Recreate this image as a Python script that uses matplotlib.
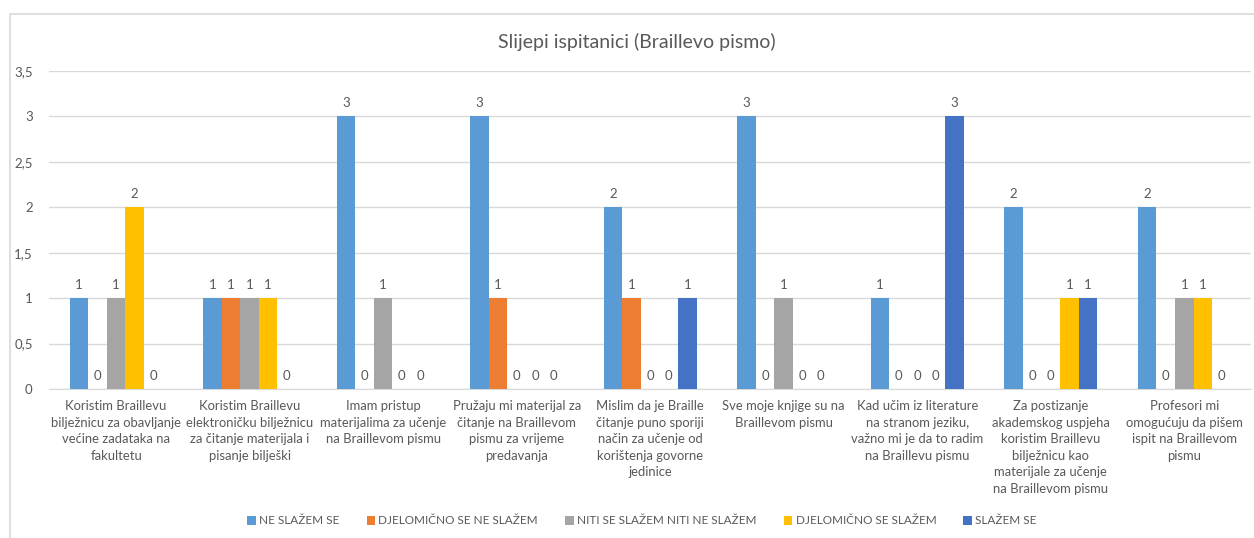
import numpy as np
import matplotlib.pyplot as plt
from matplotlib.patches import Rectangle
from matplotlib.ticker import FuncFormatter

plt.rcParams['font.family'] = ['Lato', 'DejaVu Sans']

# podaci s grafa
kategorije = [
    'Koristim Braillevu\nbilježnicu za obavljanje\nvećine zadataka na\nfakultetu',
    'Koristim Braillevu\nelektroničku bilježnicu\nza čitanje materijala i\npisanje bilješki',
    'Imam pristup\nmaterijalima za učenje\nna Braillevom pismu',
    'Pružaju mi materijal za\nčitanje na Braillevom\npismu za vrijeme\npredavanja',
    'Mislim da je Braille\nčitanje puno sporiji\nnačin za učenje od\nkorištenja govorne\njedinice',
    'Sve moje knjige su na\nBraillevom pismu',
    'Kad učim iz literature\nna stranom jeziku,\nvažno mi je da to radim\nna Braillevu pismu',
    'Za postizanje\nakademskog uspjeha\nkoristim Braillevu\nbilježnicu kao\nmaterijale za učenje\nna Braillevom pismu',
    'Profesori mi\nomogućuju da pišem\nispit na Braillevom\npismu',
]
serije = ['NE SLAŽEM SE', 'DJELOMIČNO SE NE SLAŽEM', 'NITI SE SLAŽEM NITI NE SLAŽEM',
          'DJELOMIČNO SE SLAŽEM', 'SLAŽEM SE']
ne_slazem = [1, 1, 3, 3, 2, 3, 1, 2, 2]
djelomicno_ne = [0, 1, 0, 1, 1, 0, 0, 0, 0]
niti_niti = [1, 1, 1, 0, 0, 1, 0, 0, 1]
djelomicno_da = [2, 1, 0, 0, 0, 0, 0, 1, 1]
slazem = [0, 0, 0, 0, 1, 0, 3, 1, 0]
vrijednosti = [ne_slazem, djelomicno_ne, niti_niti, djelomicno_da, slazem]
boje = ['#5B9BD5', '#ED7D31', '#A5A5A5', '#FFC000', '#4472C4']

siva = '#595959'

fig = plt.figure(figsize=(12.54, 5.38), dpi=100)
# okvir grafikona
fig.patches.append(Rectangle((9.5 / 1254, -0.02), 1.1, 0.02 + (538 - 14) / 538,
                             transform=fig.transFigure, fill=False,
                             edgecolor='#D9D9D9', linewidth=1.2))

ax = fig.add_axes([49.3 / 1254, 149 / 538, (1251 - 49.3) / 1254, 318 / 538])
x = np.arange(len(kategorije))
w = 0.139
for i, (s, v) in enumerate(zip(serije, vrijednosti)):
    bars = ax.bar(x + (i - 2) * w, v, w, color=boje[i], label=s, zorder=3)
    ax.bar_label(bars, padding=5, fontsize=9.5, color=siva)

ax.set_xlim(-0.5, len(kategorije) - 0.5)
ax.set_ylim(0, 3.5)
ax.set_yticks(np.arange(0, 3.51, 0.5))
ax.yaxis.set_major_formatter(FuncFormatter(lambda v, p: ('%g' % v).replace('.', ',')))
ax.grid(axis='y', color='#D9D9D9', linewidth=1, zorder=0)
for sp in ['top', 'right', 'left']:
    ax.spines[sp].set_visible(False)
ax.spines['bottom'].set_color('#D9D9D9')
ax.tick_params(axis='y', length=0, labelsize=9.5, labelcolor=siva, pad=12)
ax.set_xticks(x)
ax.set_xticklabels(kategorije, fontsize=9.4, color=siva, linespacing=1.45, va='top')
ax.tick_params(axis='x', length=0, pad=8)

fig.text(0.508, 1 - 42 / 538, 'Slijepi ispitanici (Braillevo pismo)', ha='center',
         va='center', fontsize=14, color=siva)

fig.legend(loc='center', bbox_to_anchor=(0.512, 1 - 521 / 538), ncol=5, frameon=False,
           fontsize=8.5, labelcolor=siva, handlelength=0.7, handleheight=0.7,
           handletextpad=0.3, columnspacing=2.3)

fig.savefig('out.png', dpi=100)
